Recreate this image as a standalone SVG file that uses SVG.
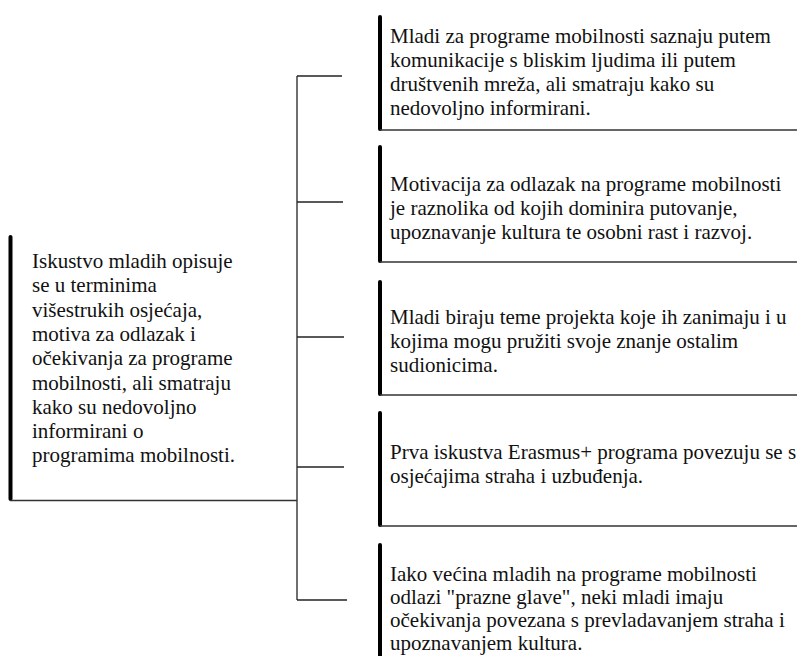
<svg xmlns="http://www.w3.org/2000/svg" width="797" height="656" viewBox="0 0 797 656">
<style>
.bar{stroke:#000;stroke-width:4;stroke-linecap:round;fill:none}
.edge{stroke:#333;stroke-width:1.6;fill:none}
.conn{stroke:#222;stroke-width:1.3;fill:none}
.t{font-family:'Liberation Serif','Times New Roman',serif;font-size:21px;fill:#111}
</style>
<rect width="797" height="656" fill="#fff"/>
<g id="connectors">
<line class="conn" x1="297" y1="76" x2="297" y2="600"/>
<line class="conn" x1="297" y1="76" x2="342" y2="76"/>
<line class="conn" x1="297" y1="202" x2="343" y2="202"/>
<line class="conn" x1="297" y1="337" x2="344" y2="337"/>
<line class="conn" x1="297" y1="467" x2="344" y2="467"/>
<line class="conn" x1="297" y1="600" x2="347" y2="600"/>
</g>
<g id="root">
<line class="bar" x1="10.5" y1="237" x2="10.5" y2="499"/>
<line class="edge" x1="10" y1="500.5" x2="297" y2="500.5"/>
<text class="t"><tspan x="32" y="268">Iskustvo mladih opisuje</tspan><tspan x="32" y="292.3">se u terminima</tspan><tspan x="32" y="316.6">višestrukih osjećaja,</tspan><tspan x="32" y="340.9">motiva za odlazak i</tspan><tspan x="32" y="365.2">očekivanja za programe</tspan><tspan x="32" y="389.5">mobilnosti, ali smatraju</tspan><tspan x="32" y="413.8">kako su nedovoljno</tspan><tspan x="32" y="438.1">informirani o</tspan><tspan x="32" y="462.4">programima mobilnosti.</tspan></text>
</g>
<g id="n1">
<line class="bar" x1="380" y1="17" x2="380" y2="129"/>
<line class="edge" x1="380" y1="130" x2="797" y2="130"/>
<text class="t"><tspan x="390" y="43">Mladi za programe mobilnosti saznaju putem</tspan><tspan x="390" y="67">komunikacije s bliskim ljudima ili putem</tspan><tspan x="390" y="91">društvenih mreža, ali smatraju kako su</tspan><tspan x="390" y="115">nedovoljno informirani.</tspan></text>
</g>
<g id="n2">
<line class="bar" x1="380" y1="147" x2="380" y2="261"/>
<line class="edge" x1="380" y1="262" x2="797" y2="262"/>
<text class="t"><tspan x="390" y="191">Motivacija za odlazak na programe mobilnosti</tspan><tspan x="390" y="215">je raznolika od kojih dominira putovanje,</tspan><tspan x="390" y="239">upoznavanje kultura te osobni rast i razvoj.</tspan></text>
</g>
<g id="n3">
<line class="bar" x1="380" y1="282" x2="380" y2="394"/>
<line class="edge" x1="380" y1="395" x2="797" y2="395"/>
<text class="t"><tspan x="390" y="324">Mladi biraju teme projekta koje ih zanimaju i u</tspan><tspan x="390" y="348">kojima mogu pružiti svoje znanje ostalim</tspan><tspan x="390" y="372">sudionicima.</tspan></text>
</g>
<g id="n4">
<line class="bar" x1="380" y1="413" x2="380" y2="525"/>
<line class="edge" x1="380" y1="526" x2="797" y2="526"/>
<text class="t"><tspan x="390" y="459">Prva iskustva Erasmus+ programa povezuju se s</tspan><tspan x="390" y="483">osjećajima straha i uzbuđenja.</tspan></text>
</g>
<g id="n5">
<line class="bar" x1="380" y1="545" x2="380" y2="660"/>
<text class="t"><tspan x="390" y="581">Iako većina mladih na programe mobilnosti</tspan><tspan x="390" y="604">odlazi "prazne glave", neki mladi imaju</tspan><tspan x="390" y="627">očekivanja povezana s prevladavanjem straha i</tspan><tspan x="390" y="650">upoznavanjem kultura.</tspan></text>
</g>
</svg>
